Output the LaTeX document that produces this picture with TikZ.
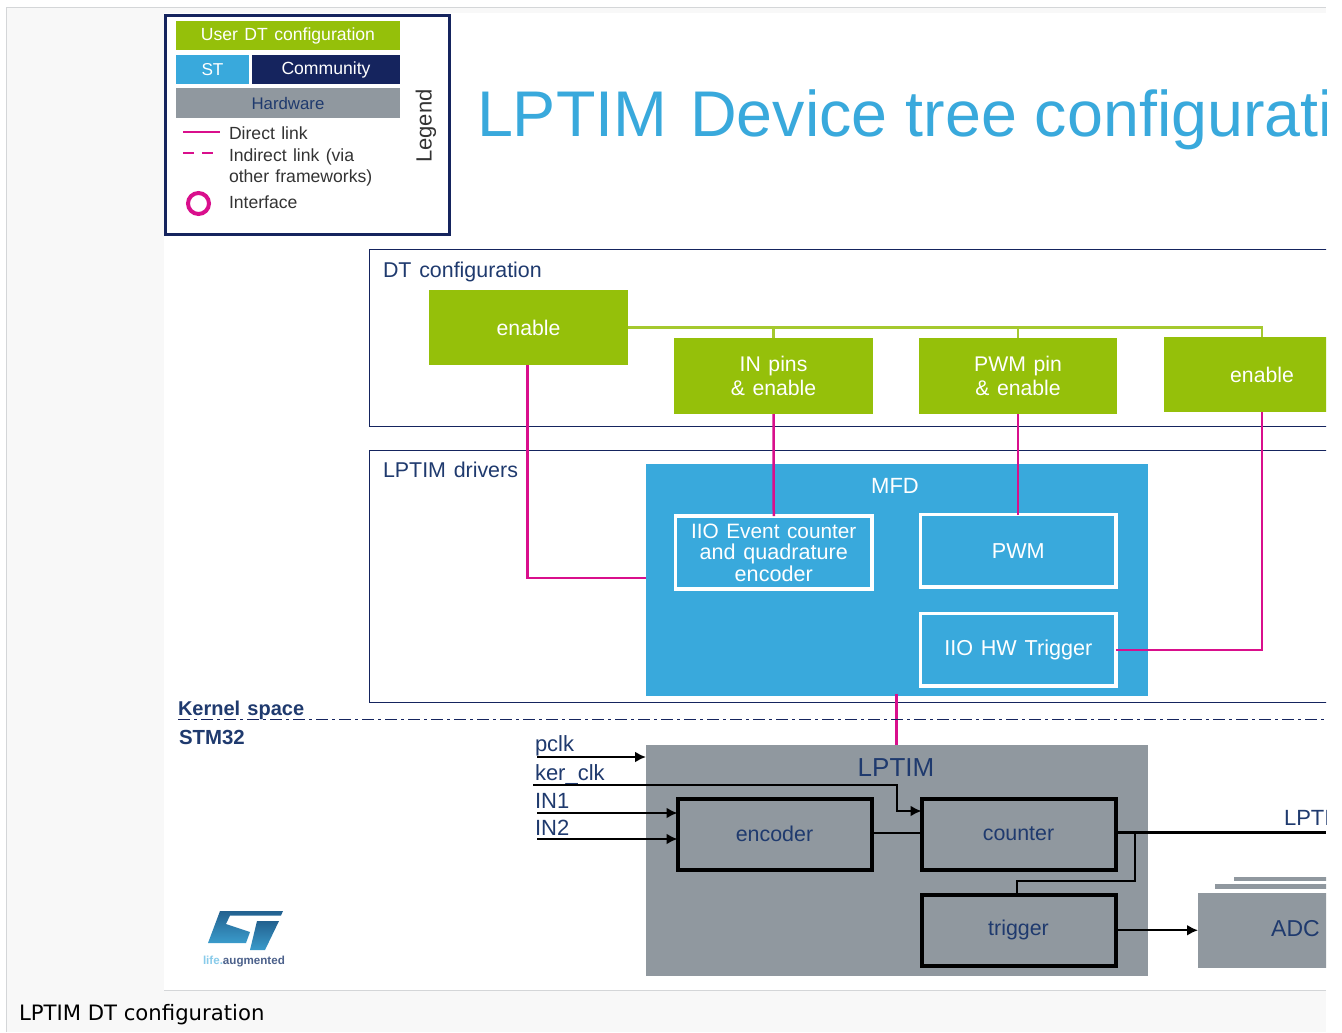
\documentclass[tikz,border=0pt]{standalone}
\usepackage{fontspec}
\setmainfont[WordSpace=1.3]{Liberation Sans}
\newfontfamily\capfont{DejaVu Sans}
\usetikzlibrary{arrows.meta,calc}
\definecolor{stgreen}{HTML}{95C00A}
\definecolor{stblue}{HTML}{39A9DC}
\definecolor{stnavy}{HTML}{15245E}
\definecolor{stgray}{HTML}{90989F}
\definecolor{stink}{HTML}{1F3A6E}
\definecolor{stmag}{HTML}{D90F8C}
\definecolor{pagebg}{HTML}{F8F8F8}
\definecolor{rulegray}{HTML}{D4D6D8}
\definecolor{stlogoa}{HTML}{23618F}
\definecolor{stlogob}{HTML}{3A9BCB}
\newcommand{\fsz}[1]{\fontsize{#1pt}{#1pt}\selectfont}
\newcommand{\bx}[8][]{%
  \node[#6,minimum width={(#4-#2)*0.5pt},minimum height={(#5-#3)*0.5pt},#1] (#7) at ({(#2+#4)/2},{(#3+#5)/2}) {#8};}
\tikzset{
  x=0.5pt,y=-0.5pt,
  every node/.style={inner sep=0pt,outer sep=0pt,align=center},
  greenbox/.style={fill=stgreen,text=white,font=\fsz{10.6}},
  bluebox/.style={fill=stblue,text=white,font=\fsz{11}},
  navybox/.style={fill=stnavy,text=white,font=\fsz{8.8}},
  graybox/.style={fill=stgray,text=stink,font=\fsz{10.7}},
  whitebox/.style={draw=white,line width=1.6pt,text=white,font=\fsz{10.8},align=center},
  blackbox/.style={draw=black,line width=2pt,text=stink,font=\fsz{10.7}},
  outline/.style={draw=stnavy,line width=0.5pt},
  lbl/.style={anchor=base west,text=stink,font=\fsz{10.7}},
  inlbl/.style={anchor=base west,text=stink,font=\fsz{11}},
  leg/.style={anchor=base west,text=black!80,font=\fsz{8.8}},
  kern/.style={anchor=base west,text=stink,font=\bfseries\fsz{10}},
  maglink/.style={draw=stmag,line width=1.25pt},
  greenlink/.style={draw=stgreen!85!white,line width=1.1pt},
  blacklink/.style={draw=black,line width=1.1pt},
  thinlink/.style={draw=black,line width=0.8pt},
  arr/.style={-{Latex[length=5.5pt,width=5.5pt]}},
}
\begin{document}
\begin{tikzpicture}
\useasboundingbox (0,0) rectangle (1342,1032);
\fill[white] (0,0) rectangle (1342,1032);
\begin{scope}
\clip (0,0) rectangle (1326,1032);
\fill[pagebg] (6,8) rectangle (1326,1032);
\draw[rulegray,line width=0.5pt] (6,1032) -- (6,8) -- (1326,8);
\fill[white] (164,13) rectangle (1326,990);
\draw[rulegray,line width=0.5pt] (164,990.5) -- (1326,990.5);
% legend
\node[draw=stnavy,line width=1.4pt,fill=white,minimum width=142pt,minimum height=109.5pt] (legend) at (307.5,125) {};
\bx{176}{21}{400}{50}{greenbox,font=\fsz{8.8}}{luser}{User DT configuration}
\bx{176}{55}{249}{84}{bluebox,font=\fsz{8.6}}{lst}{ST}
\bx{252}{55}{400}{84}{navybox}{lcomm}{Community}
\bx{176}{88}{400}{118}{graybox,font=\fsz{8.4}}{lhw}{Hardware}
\coordinate (d1) at (183,132); \coordinate (d2) at (220,132);
\draw[maglink] (d1) -- (d2);
\coordinate (i1) at (183,153); \coordinate (i2) at (214,153);
\draw[maglink,dash pattern=on 5.5pt off 4pt] (i1) -- (i2);
\node[circle,draw=stmag,line width=2pt,minimum size=10.5pt] (lif) at (198.5,203.5) {};
\node[leg] (t1) at (229,140) {Direct link};
\node[leg] (t2) at (229,161.5) {Indirect link (via};
\node[leg] (t3) at (229,183) {other frameworks)};
\node[leg] (t4) at (229,209) {Interface};
\node[rotate=90,text=black!80,font=\fsz{11}] (tleg) at (426,126) {Legend};
% title
\node[anchor=base west,text=stblue,font=\fsz{32.3}] (title) at (477,137) {\spaceskip=9pt LPTIM\hspace{2.5pt} Device tree configurati};
% outer boxes
\bx{369}{249}{1500}{426}{outline}{dtbox}{}
\bx{369}{450}{1500}{702}{outline}{drvbox}{}
\node[lbl] (dtl) at (383,277) {DT configuration};
\node[lbl] (drl) at (383,477) {LPTIM drivers};
% green boxes
\bx{429}{290}{628}{365}{greenbox}{en1}{enable}
\bx{674}{338}{873}{414}{greenbox}{inp}{IN pins\\[1.5pt]\& enable}
\bx{919}{338}{1117}{414}{greenbox}{pwmp}{PWM pin\\[1.5pt]\& enable}
\bx{1164}{337}{1360}{412}{greenbox}{en2}{enable}
% green links
\draw[greenlink] (en1.east) -- (en1.east -| en2.north) -- (en2.north);
\draw[greenlink] (en1.east -| inp.north) -- (inp.north);
\draw[greenlink] (en1.east -| pwmp.north) -- (pwmp.north);
% MFD
\bx{646}{464}{1148}{696}{bluebox}{mfd}{}
\node[text=white,font=\fsz{11}] (mfdl) at (895,486) {MFD};
\bx{675.5}{516}{872}{589}{whitebox}{iioe}{\fsz{10.4}\baselineskip=11.2pt IIO Event counter\\and quadrature\\encoder}
\bx{920.5}{514.5}{1116}{587}{whitebox}{pwm}{PWM}
\bx{920.5}{613.5}{1116}{686}{whitebox}{iioh}{\raisebox{-1pt}{IIO HW Trigger}}
% LPTIM hardware
\bx{646}{745}{1148}{976}{graybox}{hw}{}
\node[text=stink,font=\fsz{13}] (hwl) at (896,768) {LPTIM};
\bx{677.5}{798.5}{871.5}{869.5}{blackbox}{enc}{encoder}
\bx{921.5}{798.5}{1115.5}{869.5}{blackbox}{cnt}{counter}
\bx{921.5}{894.5}{1115.5}{966}{blackbox}{trg}{\raisebox{-0.5pt}{trigger}}
\bx{1198}{893}{1400}{968}{graybox}{adc}{}
\node[text=stink,font=\fsz{11.5}] (adcl) at (1295.5,929) {ADC};
\bx{1215}{884}{1400}{889}{graybox}{sh1}{}
\bx{1234}{877}{1400}{881}{graybox}{sh2}{}
% magenta links
\coordinate (en1s) at (527.5,365); \coordinate (m1) at (527.5,578); \coordinate (m2) at (646,578);
\draw[maglink] (en1s) -- (m1) -- (m2);
\draw[maglink] (inp.south) -- (iioe.north);
\draw[maglink] (pwmp.south) -- (pwmp.south |- pwm.north);
\draw[maglink] (en2.south) -- (en2.south |- iioh.east) -- (iioh.east);
\coordinate (hm1) at (896.5,694); \coordinate (hm2) at (896.5,745);
\draw[maglink] (hm1) -- (hm2);
% kernel line
\node[kern] (ks) at (178,715) {Kernel space};
\node[kern,font=\bfseries\fsz{10.2}] (stm) at (179,744) {STM32};
\coordinate (k1) at (178,719); \coordinate (k2) at (1326,719);
\draw[stnavy,line width=0.4pt,dash pattern=on 6pt off 2pt on 1.5pt off 2pt] (k1) -- (k2);
% inputs
\node[inlbl] (pclk) at (535,751) {pclk};
\node[inlbl] (kclk) at (535,780) {ker\_clk};
\node[inlbl] (in1) at (535,808) {IN1};
\node[inlbl] (in2) at (535,835) {IN2};
\coordinate (pa) at (537,757); \coordinate (ka) at (533,785); \coordinate (kb) at (897,785); \coordinate (kc) at (897,811);
\coordinate (ia) at (537,813); \coordinate (ib) at (537,839);
\draw[blacklink,arr] (pa) -- (pa -| hw.west);
\draw[blacklink,arr] (ka) -- (kb) -- (kc) -- (kc -| cnt.west);
\draw[blacklink,arr] (ia) -- (ia -| enc.west);
\draw[blacklink,arr] (ib) -- (ib -| enc.west);
\coordinate (ec) at (872,833);
\draw[thinlink] (ec) -- (ec -| cnt.west);
% outputs
\coordinate (c0) at (1116,832.5); \coordinate (out) at (1326,832.5);
\draw[blacklink] (c0) -- (out);
\node[inlbl] (lpt) at (1284,825) {LPTI};
\coordinate (b0) at (1135,832.5); \coordinate (b1) at (1135,881); \coordinate (b2) at (1017,881);
\draw[blacklink] (b0) -- (b1) -- (b2) -- (trg.north -| b2);
\draw[blacklink,arr] (trg.east) -- (trg.east -| adc.west);
% logo
\shade[top color=stlogoa,bottom color=stlogob] (220,911) -- (283,911) -- (281,915.5) -- (230,915.5) -- (226,924) -- (250,932) -- (246,943) -- (208,943) -- cycle;
\shade[top color=stlogoa,bottom color=stlogob] (257,921) -- (279,921) -- (265,950) -- (250,950) -- cycle;
\node[anchor=base west,font=\bfseries\fsz{5.8}] (life) at (203,964) {\textcolor{stblue!60}{life.}\textcolor{stink!80}{augmented}};
\end{scope}
% caption
\node[anchor=base west,text=black,font=\capfont\fsz{10.6}] (cap) at (19,1020) {LPTIM DT configuration};
\end{tikzpicture}
\end{document}
